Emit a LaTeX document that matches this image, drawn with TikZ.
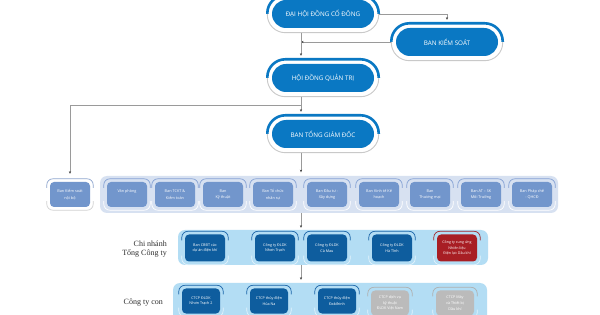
\documentclass[tikz,border=0pt]{standalone}
\usepackage{fontspec}
\setsansfont{Open Sans}
\newfontfamily\lblfont{Liberation Serif}
\usetikzlibrary{arrows.meta,calc}
\definecolor{bigblue}{HTML}{0A78C3}
\definecolor{arcgray}{HTML}{C9C9C9}
\definecolor{connc}{HTML}{9A9A9A}
\definecolor{tipc}{HTML}{3A3A3A}
\definecolor{ptwo}{HTML}{D7E1F1}
\definecolor{pthree}{HTML}{B3DDF4}
\definecolor{rtwo}{HTML}{7296CC}
\definecolor{rtwoarc}{HTML}{86A2D4}
\definecolor{ksarc}{HTML}{8FA6CF}
\definecolor{ksbot}{HTML}{D2D2D2}
\definecolor{dkblue}{HTML}{0E5D9E}
\definecolor{dkarc}{HTML}{1A64A8}
\definecolor{ltarc}{HTML}{E3F3FC}
\definecolor{redbox}{HTML}{A81E24}
\definecolor{redarc}{HTML}{A3262C}
\definecolor{graybox}{HTML}{BBBBBB}
\definecolor{grayarc}{HTML}{AFAFAF}
\definecolor{lblc}{HTML}{2E2E2E}
\begin{document}
\begin{tikzpicture}[x=1pt,y=-1pt,
  bigbox/.style={rectangle, rounded corners=14pt, fill=bigblue, text=white,
    minimum width=102pt, minimum height=28pt, inner sep=0pt,
    font=\sffamily\fontsize{6.3}{7}\selectfont},
  bigtop/.style={draw=bigblue, line width=2.6pt},
  bigbot/.style={draw=arcgray, line width=0.9pt},
  panel/.style={rectangle, rounded corners=7pt, inner sep=0pt, draw=none},
  sbox/.style={rectangle, rounded corners=4pt, inner sep=0pt, text=white,
    align=center, font=\sffamily\fontsize{3.7}{5.8}\selectfont},
  rtwobox/.style={sbox, fill=rtwo, minimum width=40pt, minimum height=25pt,
    font=\sffamily\fontsize{3.8}{6.5}\selectfont},
  rthreebox/.style={sbox, fill=dkblue, minimum width=40pt, minimum height=27pt},
  rfourbox/.style={sbox, fill=dkblue, minimum width=38pt, minimum height=25pt},
  smallarc/.style={line width=0.7pt},
  conn/.style={draw=connc, line width=0.6pt, -{Stealth[length=2.6pt,width=2.2pt,color=tipc]}},
  lbl/.style={font=\lblfont\fontsize{8}{9}\selectfont, text=lblc, align=right, inner sep=0pt}
]
\useasboundingbox (0,0) rectangle (600,315);
\clip (0,0) rectangle (600,315);
\fill[white] (0,0) rectangle (600,315);

% panels
\node[panel, fill=ptwo, minimum width=458pt, minimum height=37pt] (p2) at (329,194.5) {};
\node[panel, fill=pthree, minimum width=310pt, minimum height=35pt] (p3) at (333,247.5) {};
\node[panel, fill=pthree, minimum width=314pt, minimum height=50pt] (p4) at (330,308) {};

% big boxes
\node[bigbox] (dhd) at (323,14) {ĐẠI HỘI ĐỒNG CỔ ĐÔNG};
\node[bigbox] (bks) at (447,42) {BAN KIỂM SOÁT};
\node[bigbox] (hdqt) at (323,78) {HỘI ĐỒNG QUẢN TRỊ};
\node[bigbox] (btgd) at (323,134) {BAN TỔNG GIÁM ĐỐC};
\foreach \n in {dhd,bks,hdqt,btgd}{
  \draw[bigtop] ([xshift=-4.5pt]\n.west) [rounded corners=18pt] |- ([yshift=4.5pt]\n.north) -| ([xshift=4.5pt]\n.east);
  \draw[bigbot] ([xshift=-4.5pt]\n.west) [rounded corners=18pt] |- ([yshift=-4.5pt]\n.south) -| ([xshift=4.5pt]\n.east);
}

% row 2
\node[rtwobox] (ksnb) at (70,194.5) {Ban Kiểm soát\\nội bộ};
\node[rtwobox] (v1) at (127,194.5) {Văn phòng\\\phantom{V}};
\node[rtwobox] (v2) at (175,194.5) {Ban TCKT \&\\Kiểm toán};
\node[rtwobox] (v3) at (223,194.5) {Ban\\Kỹ thuật};
\node[rtwobox] (v4) at (273,194.5) {Ban Tổ chức\\nhân sự};
\node[rtwobox] (v5) at (327,194.5) {Ban Đầu tư -\\Xây dựng};
\node[rtwobox] (v6) at (379,194.5) {Ban Kinh tế Kế\\hoạch};
\node[rtwobox] (v7) at (430,194.5) {Ban\\Thương mại};
\node[rtwobox] (v8) at (481,194.5) {Ban AT – SK\\Môi Trường};
\node[rtwobox] (v9) at (532,194.5) {Ban Pháp chế\\- QHCĐ};

% row 3
\node[lbl, anchor=east] (l3) at (167,249) {Chi nhánh\\Tổng Công ty};
\node[rthreebox] (c1) at (205,248) {Ban CBĐT các\\dự án điện khí};
\node[rthreebox] (c2) at (275,248) {Công ty ĐLDK\\Nhơn Trạch};
\node[rthreebox] (c3) at (327,248) {Công ty ĐLDK\\Cà Mau};
\node[rthreebox] (c4) at (392,248) {Công ty ĐLDK\\Hà Tĩnh};
\node[rthreebox, fill=redbox, font=\sffamily\fontsize{3.6}{5.3}\selectfont] (c5) at (457,248) {Công ty cung ứng\\Nhiên liệu\\Điện lực Dầu khí};

% row 4
\node[lbl, anchor=east] (l4) at (163,303) {Công ty con};
\node[rfourbox] (s1) at (201,301) {CTCP ĐLDK\\Nhơn Trạch 2};
\node[rfourbox] (s2) at (269,301) {CTCP thủy điện\\Hủa Na};
\node[rfourbox] (s3) at (337,301) {CTCP thủy điện\\Đakđrinh};
\node[rfourbox, fill=graybox] (s4) at (390,303) {CTCP dịch vụ\\kỹ thuật\\ĐLDK Việt Nam};
\node[rfourbox, fill=graybox] (s5) at (455,303) {CTCP Máy\\và Thiết bị\\Dầu khí};

% small box arcs
\foreach \n/\tc/\bc in {ksnb/ksarc/ksbot, v1/rtwoarc/white, v2/rtwoarc/white, v3/rtwoarc/white,
  v4/rtwoarc/white, v5/rtwoarc/white, v6/rtwoarc/white, v7/rtwoarc/white, v8/rtwoarc/white,
  v9/rtwoarc/white, c1/dkarc/ltarc, c2/dkarc/ltarc, c3/dkarc/ltarc, c4/dkarc/ltarc,
  c5/redarc/ltarc, s1/dkarc/ltarc, s2/dkarc/ltarc, s3/dkarc/ltarc, s4/grayarc/ltarc,
  s5/grayarc/ltarc}{
  \draw[smallarc, draw=\tc] ([shift={(-3pt,-6pt)}]\n.north west) [rounded corners=6pt] |- ([yshift=3pt]\n.north) -| ([shift={(3pt,-6pt)}]\n.north east);
  \draw[smallarc, draw=\bc] ([shift={(-3pt,6pt)}]\n.south west) [rounded corners=6pt] |- ([yshift=-3pt]\n.south) -| ([shift={(3pt,6pt)}]\n.south east);
}

% connectors
\coordinate (sp) at (301,0);
\coordinate (j1) at (301,105);
\draw[conn] ($(dhd.east)+(4.5,0)$) -| ($(bks.north)+(0,-8)$);
\draw[conn] ($(bks.west)+(-4.5,0)$) -- (bks.west -| sp);
\draw[conn] ($(dhd.south -| sp)+(0,4.5)$) -- ($(hdqt.north -| sp)+(0,-8)$);
\draw[conn] ($(hdqt.south -| sp)+(0,4.5)$) -- ($(btgd.north -| sp)+(0,-8)$);
\draw[conn] (j1) -| ($(ksnb.north)+(0,-8)$);
\draw[conn] ($(btgd.south -| sp)+(0,4.5)$) -- ($(p2.north -| sp)+(0,-3.5)$);
\draw[conn] (p2.south -| sp) -- ($(p3.north -| sp)+(0,-2)$);
\draw[conn] (p3.south -| sp) -- ($(p4.north -| sp)+(0,-3)$);
\end{tikzpicture}
\end{document}
